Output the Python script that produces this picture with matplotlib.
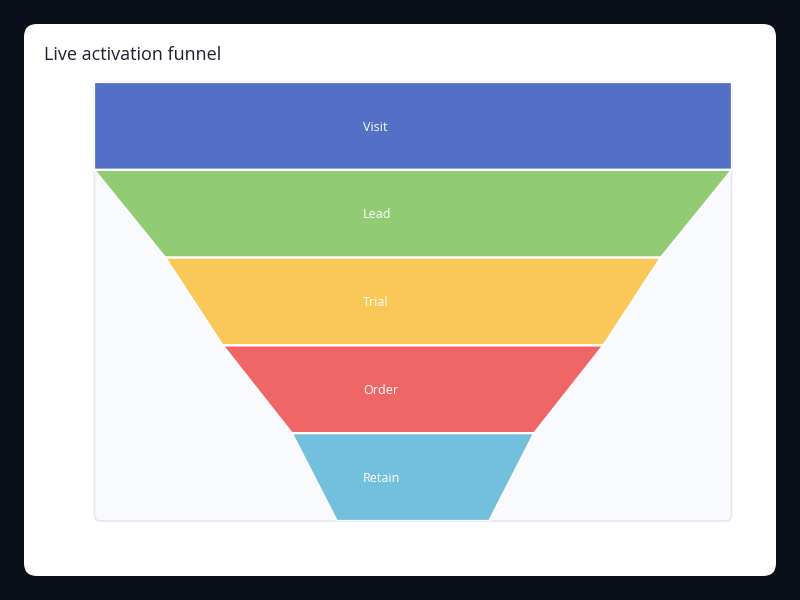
import matplotlib
matplotlib.use("Agg")
import matplotlib.pyplot as plt
from matplotlib.patches import FancyBboxPatch, Polygon
from matplotlib.transforms import offset_copy

plt.rcParams['font.family'] = ['Open Sans', 'DejaVu Sans']

# funnel data (share of top stage, in %)
stages = ["Visit", "Lead", "Trial", "Order", "Retain"]
values = [100.0, 77.7, 59.7, 38.0, 23.9]
colors = ["#5470c6", "#91cc75", "#fac858", "#ee6666", "#73c0de"]
title = "Live activation funnel"

W, H = 800, 600
fig = plt.figure(figsize=(8, 6), dpi=100)
fig.patch.set_facecolor("#0b0f19")

# background layer in pixel coords
bg = fig.add_axes([0, 0, 1, 1])
bg.set_xlim(0, W)
bg.set_ylim(H, 0)
bg.axis("off")
bg.add_patch(FancyBboxPatch((24, 24), 752, 552, boxstyle="round,pad=0,rounding_size=13",
                            fc="white", ec="none"))
bg.add_patch(FancyBboxPatch((94.5, 82.5), 637, 438.5, boxstyle="round,pad=0,rounding_size=6",
                            fc="#f9fafe", ec="#e4e7ef", lw=1.2))
bg.text(44, 55.5, title, fontsize=13, color="#1c2033", va="center", ha="left")

# funnel axes covering the plot area
ax = fig.add_axes([94 / W, (H - 521) / H, 638 / W, 439 / H])
ax.set_xlim(-50, 50)
ax.set_ylim(len(stages), 0)
ax.axis("off")
ax.patch.set_alpha(0)

lbl_tr = offset_copy(ax.transData, fig=fig, x=-50, y=-1.2, units="dots")
for i, (name, v) in enumerate(zip(stages, values)):
    top = values[i - 1] if i > 0 else v
    pts = [(-top / 2, i), (top / 2, i), (v / 2, i + 1), (-v / 2, i + 1)]
    ax.add_patch(Polygon(pts, closed=True, fc=colors[i], ec="white", lw=1.6))
    ax.text(0, i + 0.5, name, transform=lbl_tr, color="white", fontsize=9,
            ha="left", va="center")

fig.savefig("out.png", dpi=100, facecolor=fig.get_facecolor())
